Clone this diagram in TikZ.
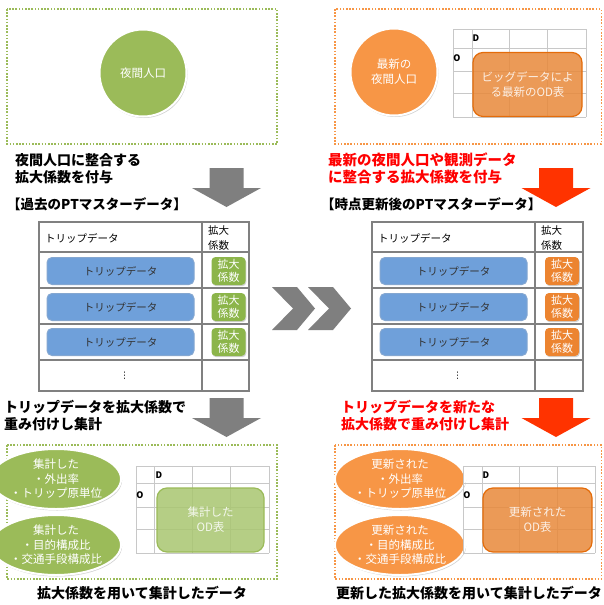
\documentclass[tikz,border=0pt]{standalone}
\usepackage{fontspec}
\setmainfont{Noto Sans CJK JP}
\newfontfamily\dejavu{DejaVu Sans}
\usetikzlibrary{shadows,shapes.geometric}
\definecolor{grn}{HTML}{9BBB59}
\definecolor{grnD}{HTML}{7FA33F}
\definecolor{org}{HTML}{F79646}
\definecolor{orgD}{HTML}{E46C0A}
\definecolor{odorg}{HTML}{E8893A}
\definecolor{odgrn}{HTML}{A9C670}
\definecolor{blu}{HTML}{6FA0DA}
\definecolor{bluD}{HTML}{4F81BD}
\definecolor{sgrn}{HTML}{8CB54A}
\definecolor{sorg}{HTML}{EC8430}
\definecolor{arrgray}{HTML}{7F7F7F}
\definecolor{arrred}{HTML}{FF3300}
\definecolor{tblline}{HTML}{808080}
\definecolor{gridl}{HTML}{C8C8C8}
\tikzset{
  dotbox/.style={line width=1.6pt, dash pattern=on 1.6pt off 1.6pt},
  bigtxt/.style={font=\bfseries\fontsize{14}{17}\selectfont, anchor=west, align=left, inner sep=0pt},
  circ/.style={circle, minimum size=87pt, inner sep=0pt, draw=white, line width=2pt,
     drop shadow={opacity=0.35, shadow xshift=1pt, shadow yshift=-1.5pt},
     text=white, align=center, font=\fontsize{11.5}{15}\selectfont},
  ell/.style={ellipse, minimum width=100pt, minimum height=60pt, inner sep=0pt, draw=white, line width=2pt,
     drop shadow={opacity=0.35, shadow xshift=1pt, shadow yshift=-1.5pt},
     text=white, align=center, font=\fontsize{11.5}{14.5}\selectfont},
  tbl/.style={draw=tblline, line width=1.2pt},
  gridline/.style={draw=gridl, line width=0.8pt},
  tripbox/.style={rounded corners=5pt, fill=blu, draw=bluD!70, line width=1pt,
     minimum height=27pt, inner sep=0pt, font=\fontsize{10.5}{12}\selectfont, text=black!80},
  coefbox/.style={rounded corners=4pt, minimum width=34pt, minimum height=28pt, inner sep=0pt,
     drop shadow={opacity=0.35, shadow xshift=0.8pt, shadow yshift=-1.2pt},
     text=white, align=center, font=\fontsize{11}{13}\selectfont},
  odrect/.style={rounded corners=10pt, inner sep=0pt, line width=1.2pt, fill opacity=0.85,
     text opacity=0.85, text=white, align=center, font=\fontsize{11.5}{15}\selectfont},
  hdr/.style={font=\fontsize{10.5}{15}\selectfont, anchor=west, inner sep=0pt, align=left},
  odlbl/.style={font=\bfseries\fontsize{9}{10}\selectfont, inner sep=0pt},
  pics/downarrow/.style={code={
     \fill[#1] (-17,0) -- (17,0) -- (17,20) -- (34.5,20) -- (0,39) -- (-34.5,20) -- (-17,20) -- cycle;}},
  pics/chev/.style={code={
     \fill[arrgray] (0,0) -- (25,0) -- (43,21.5) -- (25,43) -- (0,43) -- (21,21.5) -- cycle;}}
}
\begin{document}
\begin{tikzpicture}[x=1pt,y=-1pt]
\useasboundingbox[fill=white] (0,0) rectangle (603,605);

% ---------- top boxes ----------
\draw[dotbox, draw=grn] (7,9) rectangle (277,144);
\node[circ, fill=grn] (pop1) at (143,73) {夜間人口};

\draw[dotbox, draw=org] (335,9) rectangle (601.5,144);
\node[circ, fill=org] (pop2) at (394,72) {最新の\\夜間人口};
\foreach \x in {453,472,509,547,586} \draw[gridline] (\x,29) -- (\x,117);
\foreach \y in {29,48,71,93,117} \draw[gridline] (453,\y) -- (586,\y);
\node[odlbl] (d1) at (476,38) {D};
\node[odlbl] (o1) at (457,58) {O};
\node[odrect, fill=odorg, draw=orgD, minimum width=109pt, minimum height=64pt] (od1) at (527.5,84.5) {ビッグデータによ\\る最新のOD表};

% ---------- texts and arrows ----------
\node[bigtxt] (t1) at (15,168.5) {夜間人口に整合する\\拡大係数を付与};
\node[bigtxt, text=red, font=\bfseries\fontsize{14.5}{17}\selectfont] (t2) at (328,168.5) {最新の夜間人口や観測データ\\に整合する拡大係数を付与};
\pic at (226.5,168) {downarrow=arrgray};
\pic at (556,168) {downarrow=arrred};
\node[bigtxt, font=\bfseries\fontsize{13.5}{15}\selectfont] (h1) at (7,204) {【過去のPTマスターデータ】};
\node[bigtxt, font=\bfseries\fontsize{13.5}{15}\selectfont] (h2) at (321,204) {【時点更新後のPTマスターデータ】};

% ---------- tables ----------
\foreach \L/\M/\R/\cc/\nm in {39/202/249/sgrn/a, 372/535/583/sorg/b}{
  \draw[tbl] (\L,222) rectangle (\R,391);
  \draw[tbl] (\M,222) -- (\M,391);
  \foreach \y in {252,288,324,360} \draw[tbl] (\L,\y) -- (\R,\y);
  \node[hdr] (th\nm) at ({\L+6},238) {トリップデータ};
  \node[hdr] (tc\nm) at ({\M+6},238) {拡大\\係数};
  \foreach \y/\k in {271/1,307/2,342/3}{
    \node[tripbox, minimum width=147pt] (trip\nm\k) at ({(\L+\M)/2},\y) {トリップデータ};
    \node[coefbox, fill=\cc] (coef\nm\k) at ({(\M+\R)/2+3},\y) {拡大\\係数};
  }
  \node[inner sep=0pt, font=\dejavu\fontsize{9}{10}\selectfont] (dots\nm) at ({(\L+\M)/2+4},376) {⋮};
}

% chevrons
\pic at (272,287) {chev};
\pic at (308,287) {chev};

% ---------- middle texts and arrows ----------
\node[bigtxt] (t3) at (4,416) {トリップデータを拡大係数で\\重み付けし集計};
\node[bigtxt, text=red] (t4) at (341,416) {トリップデータを新たな\\拡大係数で重み付けし集計};
\pic at (226.5,398) {downarrow=arrgray};
\pic at (556,398) {downarrow=arrred};

% ---------- bottom boxes ----------
\draw[dotbox, draw=grn] (7,445) rectangle (277,579);
\node[ell, fill=grn] (e1) at (56,479) {集計した\\・外出率\\・トリップ原単位};
\node[ell, fill=grn] (e2) at (56,545) {集計した\\・目的構成比\\・交通手段構成比};
\foreach \x in {136,154,192,230,269} \draw[gridline] (\x,466) -- (\x,553);
\foreach \y in {466,483,507,529,553} \draw[gridline] (136,\y) -- (269,\y);
\node[odlbl] (d2) at (159,475) {D};
\node[odlbl] (o2) at (140,495) {O};
\node[odrect, fill=odgrn, draw=grn, minimum width=107pt, minimum height=64pt] (od2) at (210.5,520) {集計した\\OD表};
\node[font=\bfseries\fontsize{14}{15}\selectfont, inner sep=0pt] (c1) at (142,593) {拡大係数を用いて集計したデータ};

\draw[dotbox, draw=org] (335,445) rectangle (601.5,579);
\node[ell, fill=org, minimum width=125pt] (e3) at (400,479) {更新された\\・外出率\\・トリップ原単位};
\node[ell, fill=org, minimum width=125pt] (e4) at (400,545) {更新された\\・目的構成比\\・交通手段構成比};
\foreach \x in {463,482,519,557,595} \draw[gridline] (\x,466) -- (\x,553);
\foreach \y in {466,483,507,529,553} \draw[gridline] (463,\y) -- (595,\y);
\node[odlbl] (d3) at (486,475) {D};
\node[odlbl] (o3) at (467,495) {O};
\node[odrect, fill=odorg, draw=orgD, minimum width=109pt, minimum height=64pt] (od3) at (537.5,520) {更新された\\OD表};
\node[font=\bfseries\fontsize{14}{15}\selectfont, inner sep=0pt] (c2) at (469,593) {更新した拡大係数を用いて集計したデータ};
\end{tikzpicture}
\end{document}
